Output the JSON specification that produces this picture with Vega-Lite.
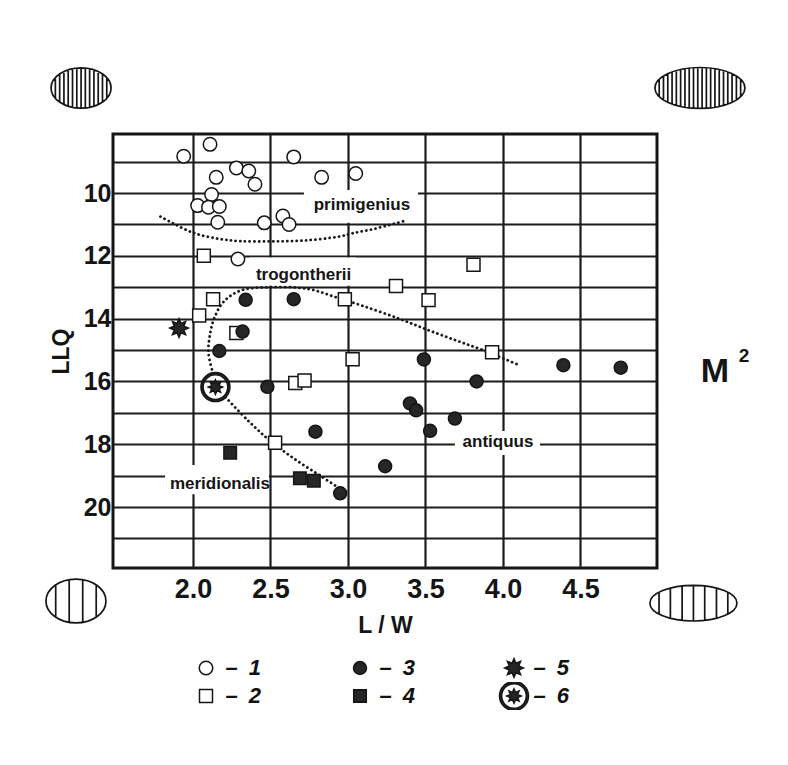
{
  "$schema": "https://vega.github.io/schema/vega-lite/v6.json",
  "width": 544,
  "height": 434,
  "autosize": "none",
  "padding": {"left": 113, "top": 134, "right": 131, "bottom": 197},
  "background": "white",
  "datasets": {
    "pts": [
      {"lw": 1.94, "llq": 8.83, "type": "1"},
      {"lw": 2.11, "llq": 8.45, "type": "1"},
      {"lw": 2.65, "llq": 8.85, "type": "1"},
      {"lw": 2.28, "llq": 9.2, "type": "1"},
      {"lw": 2.36, "llq": 9.3, "type": "1"},
      {"lw": 2.15, "llq": 9.5, "type": "1"},
      {"lw": 2.4, "llq": 9.72, "type": "1"},
      {"lw": 2.83, "llq": 9.5, "type": "1"},
      {"lw": 3.05, "llq": 9.38, "type": "1"},
      {"lw": 2.12, "llq": 10.05, "type": "1"},
      {"lw": 2.03, "llq": 10.4, "type": "1"},
      {"lw": 2.1, "llq": 10.45, "type": "1"},
      {"lw": 2.17, "llq": 10.43, "type": "1"},
      {"lw": 2.16, "llq": 10.93, "type": "1"},
      {"lw": 2.46, "llq": 10.95, "type": "1"},
      {"lw": 2.58, "llq": 10.73, "type": "1"},
      {"lw": 2.62, "llq": 11.0, "type": "1"},
      {"lw": 2.29, "llq": 12.1, "type": "1"},
      {"lw": 2.07, "llq": 12.0, "type": "2"},
      {"lw": 3.81, "llq": 12.28, "type": "2"},
      {"lw": 3.31, "llq": 12.96, "type": "2"},
      {"lw": 2.13, "llq": 13.38, "type": "2"},
      {"lw": 2.98, "llq": 13.38, "type": "2"},
      {"lw": 3.52, "llq": 13.41, "type": "2"},
      {"lw": 2.04, "llq": 13.9, "type": "2"},
      {"lw": 2.28, "llq": 14.46, "type": "2"},
      {"lw": 3.93, "llq": 15.07, "type": "2"},
      {"lw": 3.03, "llq": 15.29, "type": "2"},
      {"lw": 2.66, "llq": 16.05, "type": "2"},
      {"lw": 2.72, "llq": 15.97, "type": "2"},
      {"lw": 2.53, "llq": 17.95, "type": "2"},
      {"lw": 2.34, "llq": 13.4, "type": "3"},
      {"lw": 2.65, "llq": 13.38, "type": "3"},
      {"lw": 2.32, "llq": 14.41, "type": "3"},
      {"lw": 2.17, "llq": 15.03, "type": "3"},
      {"lw": 3.49, "llq": 15.3, "type": "3"},
      {"lw": 2.48, "llq": 16.17, "type": "3"},
      {"lw": 3.83, "llq": 16.0, "type": "3"},
      {"lw": 3.4, "llq": 16.7, "type": "3"},
      {"lw": 3.44, "llq": 16.92, "type": "3"},
      {"lw": 3.69, "llq": 17.18, "type": "3"},
      {"lw": 3.53, "llq": 17.57, "type": "3"},
      {"lw": 2.79, "llq": 17.6, "type": "3"},
      {"lw": 3.24, "llq": 18.7, "type": "3"},
      {"lw": 2.95, "llq": 19.56, "type": "3"},
      {"lw": 4.39, "llq": 15.48, "type": "3"},
      {"lw": 4.76, "llq": 15.56, "type": "3"},
      {"lw": 2.24, "llq": 18.27, "type": "4"},
      {"lw": 2.69, "llq": 19.08, "type": "4"},
      {"lw": 2.78, "llq": 19.16, "type": "4"},
      {"lw": 1.91, "llq": 14.3, "type": "5"},
      {"lw": 2.145, "llq": 16.18, "type": "6"}
    ],
    "curves": [
      {"curve": "a", "i": 0, "lw": 1.79, "llq": 10.75},
      {"curve": "a", "i": 1, "lw": 1.87, "llq": 10.96},
      {"curve": "a", "i": 2, "lw": 2.01, "llq": 11.28},
      {"curve": "a", "i": 3, "lw": 2.17, "llq": 11.46},
      {"curve": "a", "i": 4, "lw": 2.3, "llq": 11.53},
      {"curve": "a", "i": 5, "lw": 2.51, "llq": 11.54},
      {"curve": "a", "i": 6, "lw": 2.72, "llq": 11.51},
      {"curve": "a", "i": 7, "lw": 2.95, "llq": 11.38},
      {"curve": "a", "i": 8, "lw": 3.03, "llq": 11.28},
      {"curve": "a", "i": 9, "lw": 3.17, "llq": 11.14},
      {"curve": "a", "i": 10, "lw": 3.37, "llq": 10.88},
      {"curve": "b", "i": 0, "lw": 2.13, "llq": 15.75},
      {"curve": "b", "i": 1, "lw": 2.1, "llq": 15.1},
      {"curve": "b", "i": 2, "lw": 2.11, "llq": 14.5},
      {"curve": "b", "i": 3, "lw": 2.14, "llq": 13.95},
      {"curve": "b", "i": 4, "lw": 2.2, "llq": 13.45},
      {"curve": "b", "i": 5, "lw": 2.31, "llq": 13.1},
      {"curve": "b", "i": 6, "lw": 2.5, "llq": 13.0},
      {"curve": "b", "i": 7, "lw": 2.74, "llq": 13.05},
      {"curve": "b", "i": 8, "lw": 2.93, "llq": 13.33},
      {"curve": "b", "i": 9, "lw": 3.1, "llq": 13.6},
      {"curve": "b", "i": 10, "lw": 3.33, "llq": 14.0},
      {"curve": "b", "i": 11, "lw": 3.51, "llq": 14.35},
      {"curve": "b", "i": 12, "lw": 3.69, "llq": 14.68},
      {"curve": "b", "i": 13, "lw": 3.87, "llq": 15.0},
      {"curve": "b", "i": 14, "lw": 4.09, "llq": 15.45},
      {"curve": "c", "i": 0, "lw": 2.21, "llq": 16.5},
      {"curve": "c", "i": 1, "lw": 2.36, "llq": 17.27},
      {"curve": "c", "i": 2, "lw": 2.5, "llq": 17.9},
      {"curve": "c", "i": 3, "lw": 2.65, "llq": 18.45},
      {"curve": "c", "i": 4, "lw": 2.82, "llq": 19.0},
      {"curve": "c", "i": 5, "lw": 2.96, "llq": 19.45}
    ],
    "bg": [
      {"lw": 2.716, "lw2": 3.452, "llq": 9.9, "llq2": 10.95},
      {"lw": 2.368, "lw2": 3.052, "llq": 12.05, "llq2": 12.95},
      {"lw": 3.69, "lw2": 4.239, "llq": 17.58, "llq2": 18.34},
      {"lw": 1.82, "lw2": 2.49, "llq": 18.66, "llq2": 19.59}
    ],
    "names": [
      {"lw": 3.09, "llq": 10.54, "label": "primigenius"},
      {"lw": 2.714, "llq": 12.77, "label": "trogontherii"},
      {"lw": 3.968, "llq": 18.1, "label": "antiquus"},
      {"lw": 2.174, "llq": 19.41, "label": "meridionalis"}
    ],
    "mbig": [{"lw": 5.368, "llq": 16.02, "label": "M"}],
    "msup": [{"lw": 5.555, "llq": 15.38, "label": "2"}],
    "ell": [
      {"lw": 1.278, "llq": 6.655, "kind": "tl"},
      {"lw": 5.271, "llq": 6.655, "kind": "tr"},
      {"lw": 1.245, "llq": 22.99, "kind": "bl"},
      {"lw": 5.229, "llq": 23.06, "kind": "br"}
    ]
  },
  "encoding": {
    "x": {
      "field": "lw",
      "type": "quantitative",
      "scale": {"domain": [1.484, 4.994], "nice": false, "zero": false},
      "axis": {
        "title": "L / W",
        "values": [2, 2.5, 3, 3.5, 4, 4.5],
        "format": ".1f",
        "grid": true,
        "ticks": false,
        "tickSize": 0,
        "domain": false,
        "labelFlush": false,
        "labelOverlap": false,
        "labelPadding": 8,
        "labelFontSize": 27,
        "titleFontSize": 23,
        "titlePadding": 12
      }
    },
    "y": {
      "field": "llq",
      "type": "quantitative",
      "scale": {"domain": [8.12, 21.94], "nice": false, "zero": false, "reverse": true},
      "axis": {
        "title": "LLQ",
        "values": [9, 10, 11, 12, 13, 14, 15, 16, 17, 18, 19, 20, 21],
        "labelExpr": "datum.value % 2 == 0 ? datum.label : ''",
        "grid": true,
        "ticks": false,
        "tickSize": 0,
        "domain": false,
        "labelOverlap": false,
        "labelPadding": 2,
        "labelFontSize": 25,
        "titleFontSize": 23,
        "titlePadding": 10
      }
    }
  },
  "layer": [
    {
      "data": {"name": "bg"},
      "mark": {"type": "rect", "fill": "white", "stroke": null},
      "encoding": {"x2": {"field": "lw2"}, "y2": {"field": "llq2"}}
    },
    {
      "data": {"name": "curves"},
      "mark": {"type": "line", "interpolate": "catmull-rom", "color": "#1a1a1a", "strokeWidth": 2.8, "strokeDash": [0.1, 4.6], "strokeCap": "round"},
      "encoding": {"detail": {"field": "curve", "type": "nominal"}, "order": {"field": "i", "type": "quantitative"}}
    },
    {
      "data": {"name": "ell"},
      "mark": {"type": "point", "filled": false, "stroke": "#151515", "strokeWidth": 1.7, "opacity": 1, "size": 8100},
      "encoding": {
        "shape": {
          "field": "kind",
          "type": "nominal",
          "legend": null,
          "scale": {
            "domain": ["tl", "tr", "bl", "br"],
            "range": [
              "M-0.667,0A0.667,0.447,0,1,1,0.667,0A0.667,0.447,0,1,1,-0.667,0ZM-0.571,-0.23L-0.571,0.23M-0.476,-0.313L-0.476,0.313M-0.381,-0.367L-0.381,0.367M-0.286,-0.403L-0.286,0.403M-0.19,-0.428L-0.19,0.428M-0.095,-0.442L-0.095,0.442M0,-0.447L0,0.447M0.095,-0.442L0.095,0.442M0.19,-0.428L0.19,0.428M0.286,-0.403L0.286,0.403M0.381,-0.367L0.381,0.367M0.476,-0.313L0.476,0.313M0.571,-0.23L0.571,0.23",
              "M-1,0A1,0.455,0,1,1,1,0A1,0.455,0,1,1,-1,0ZM-0.905,-0.193L-0.905,0.193M-0.81,-0.267L-0.81,0.267M-0.714,-0.318L-0.714,0.318M-0.619,-0.357L-0.619,0.357M-0.524,-0.388L-0.524,0.388M-0.429,-0.411L-0.429,0.411M-0.333,-0.429L-0.333,0.429M-0.238,-0.442L-0.238,0.442M-0.143,-0.45L-0.143,0.45M-0.048,-0.454L-0.048,0.454M0.048,-0.454L0.048,0.454M0.143,-0.45L0.143,0.45M0.238,-0.442L0.238,0.442M0.333,-0.429L0.333,0.429M0.429,-0.411L0.429,0.411M0.524,-0.388L0.524,0.388M0.619,-0.357L0.619,0.357M0.714,-0.318L0.714,0.318M0.81,-0.267L0.81,0.267M0.905,-0.193L0.905,0.193",
              "M-0.667,0A0.667,0.487,0,1,1,0.667,0A0.667,0.487,0,1,1,-0.667,0ZM-0.45,-0.359L-0.45,0.359M-0.15,-0.474L-0.15,0.474M0.15,-0.474L0.15,0.474M0.45,-0.359L0.45,0.359",
              "M-0.967,0A0.967,0.396,0,1,1,0.967,0A0.967,0.396,0,1,1,-0.967,0ZM-0.764,-0.243L-0.764,0.243M-0.512,-0.336L-0.512,0.336M-0.251,-0.383L-0.251,0.383M0,-0.396L0,0.396M0.251,-0.383L0.251,0.383M0.512,-0.336L0.512,0.336M0.764,-0.243L0.764,0.243"
            ]
          }
        }
      }
    },
    {
      "data": {"name": "pts"},
      "mark": {"type": "point", "filled": true, "stroke": "#151515", "strokeWidth": 1.5, "opacity": 1, "size": 900},
      "encoding": {
        "shape": {
          "field": "type",
          "type": "nominal",
          "scale": {
            "domain": ["1", "3", "5", "2", "4", "6"],
            "range": [
              "M0.45,0A0.45,0.45,0,1,1,-0.45,0A0.45,0.45,0,1,1,0.45,0Z",
              "M0.433,0A0.433,0.433,0,1,1,-0.433,0A0.433,0.433,0,1,1,0.433,0Z",
              "M0.62,0L0.315,0.131L0.438,0.438L0.131,0.315L0,0.62L-0.131,0.315L-0.438,0.438L-0.315,0.131L-0.62,0L-0.315,-0.131L-0.438,-0.438L-0.131,-0.315L0,-0.62L0.131,-0.315L0.438,-0.438L0.315,-0.131Z",
              "M-0.433,-0.433L0.433,-0.433L0.433,0.433L-0.433,0.433Z",
              "M-0.417,-0.417L0.417,-0.417L0.417,0.417L-0.417,0.417Z",
              "M0.967,0A0.967,0.967,0,1,1,-0.967,0A0.967,0.967,0,1,1,0.967,0ZM0.82,0A0.82,0.82,0,1,0,-0.82,0A0.82,0.82,0,1,0,0.82,0ZM0.48,0L0.244,0.101L0.339,0.339L0.101,0.244L0,0.48L-0.101,0.244L-0.339,0.339L-0.244,0.101L-0.48,0L-0.244,-0.101L-0.339,-0.339L-0.101,-0.244L0,-0.48L0.101,-0.244L0.339,-0.339L0.244,-0.101Z"
            ]
          },
          "legend": {
            "title": null, "orient": "none", "legendX": 77, "legendY": 520, "columns": 3, "direction": "horizontal",
            "columnPadding": 83, "rowPadding": 0, "clipHeight": 28, "labelOffset": 3.5, "padding": 0, "symbolSize": 900,
            "labelFont": "Liberation Sans", "labelFontSize": 22, "labelFontStyle": "italic", "labelFontWeight": "bold",
            "labelColor": "#111", "labelExpr": "'–\u2002' + datum.label",
            "symbolStrokeColor": "#151515", "symbolStrokeWidth": 1.5, "symbolOpacity": 1,
            "encode": {"symbols": {"update": {"stroke": {"value": "#151515"}, "strokeWidth": {"value": 1.5}, "opacity": {"value": 1}}}}
          }
        },
        "fill": {
          "field": "type",
          "type": "nominal",
          "scale": {"domain": ["1", "3", "5", "2", "4", "6"], "range": ["#ffffff", "#262626", "#262626", "#ffffff", "#262626", "#262626"]},
          "legend": {
            "title": null, "orient": "none", "legendX": 77, "legendY": 520, "columns": 3, "direction": "horizontal",
            "columnPadding": 83, "rowPadding": 0, "clipHeight": 28, "labelOffset": 3.5, "padding": 0, "symbolSize": 900,
            "labelFont": "Liberation Sans", "labelFontSize": 22, "labelFontStyle": "italic", "labelFontWeight": "bold",
            "labelColor": "#111", "labelExpr": "'–\u2002' + datum.label",
            "symbolStrokeColor": "#151515", "symbolStrokeWidth": 1.5, "symbolOpacity": 1,
            "encode": {"symbols": {"update": {"stroke": {"value": "#151515"}, "strokeWidth": {"value": 1.5}, "opacity": {"value": 1}}}}
          }
        }
      }
    },
    {
      "data": {"name": "names"},
      "mark": {"type": "text", "font": "Liberation Sans", "fontWeight": "bold", "fontSize": 17, "color": "#151515", "align": "center", "baseline": "alphabetic"},
      "encoding": {"text": {"field": "label", "type": "nominal"}}
    },
    {
      "data": {"name": "mbig"},
      "mark": {"type": "text", "font": "Liberation Sans", "fontWeight": "bold", "fontSize": 34, "color": "#151515", "align": "center", "baseline": "alphabetic"},
      "encoding": {"text": {"field": "label", "type": "nominal"}}
    },
    {
      "data": {"name": "msup"},
      "mark": {"type": "text", "font": "Liberation Sans", "fontWeight": "bold", "fontSize": 19, "color": "#151515", "align": "center", "baseline": "alphabetic"},
      "encoding": {"text": {"field": "label", "type": "nominal"}}
    }
  ],
  "resolve": {"scale": {"shape": "independent", "fill": "independent"}},
  "config": {
    "view": {"stroke": "#151515", "strokeWidth": 3},
    "axis": {
      "labelFont": "Liberation Sans",
      "titleFont": "Liberation Sans",
      "labelFontWeight": "bold",
      "titleFontWeight": "bold",
      "labelColor": "#151515",
      "titleColor": "#151515",
      "gridColor": "#1c1c1c",
      "gridWidth": 2.2,
      "gridOpacity": 1
    }
  }
}
